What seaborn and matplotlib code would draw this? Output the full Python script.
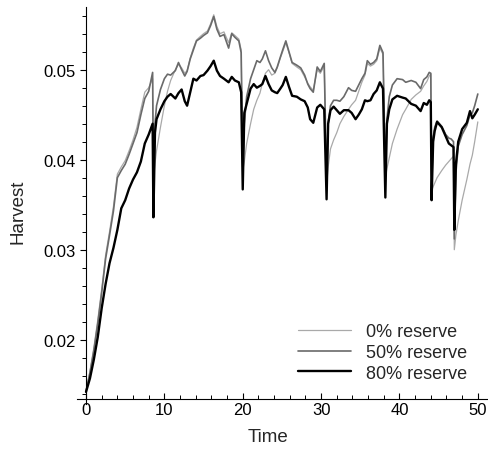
import matplotlib
matplotlib.use("Agg")
import matplotlib.pyplot as plt
from matplotlib.ticker import MultipleLocator, FormatStrFormatter
import seaborn as sns

# Simulated harvest over time for three reserve fractions
time = [
    0, 0.5, 1, 1.5, 2, 2.5, 3, 3.5, 4, 4.5, 5, 5.5, 6, 6.5, 7, 7.5, 8, 8.5,
    8.6, 8.8, 9.0, 9.5, 10.0, 10.4, 10.8, 11.4, 11.8, 12.2, 12.6, 12.9, 13.3, 13.7,
    14.1, 14.6, 15.0, 15.5, 15.9, 16.3, 16.7, 17.1, 17.6, 18.2, 18.6, 19.0, 19.5, 19.8,
    20.0, 20.2, 20.5, 21.0, 21.4, 21.8, 22.2, 22.5, 22.9, 23.3, 23.7, 24.1, 24.4, 24.8,
    25.1, 25.5, 25.9, 26.3, 26.9, 27.4, 27.9, 28.3, 28.6, 29.0, 29.5, 29.9, 30.4,
    30.7, 30.9, 31.2, 31.6, 32.0, 32.4, 32.9, 33.5, 33.9, 34.4, 34.8, 35.2, 35.6, 35.9,
    36.3, 36.7, 37.1, 37.5, 37.9,
    38.2, 38.4, 38.7, 39.1, 39.7, 40.4, 40.8, 41.5, 42.1, 42.7, 43.1, 43.5, 43.8, 44.0,
    44.1, 44.3, 44.5, 44.8, 45.4, 45.9, 46.3, 46.6, 46.9,
    47.0, 47.2, 47.5, 48.0, 48.6, 49.0, 49.3, 49.6, 50.0,
]

reserve_0 = [
    .0143, .0165, .0191, .0222, .0256, .0294, .0320, .0348, .0384, .0392, .0399, .0410, .0422, .0436, .0456, .0475, .0480, .0490,
    .0378, .0396, .0410, .0436, .0460, .0476, .0488, .0500, .0506, .0502, .0496, .0499, .0513, .0524,
    .0533, .0537, .0540, .0543, .0551, .0561, .0548, .0540, .0542, .0530, .0541, .0538, .0534, .0522,
    .0388, .0398, .0418, .0440, .0456, .0466, .0474, .0485, .0496, .0500, .0494, .0496, .0502, .0513,
    .0520, .0530, .0519, .0507, .0503, .0500, .0492, .0485, .0481, .0477, .0500, .0496, .0504,
    .0372, .0392, .0412, .0422, .0430, .0440, .0448, .0456, .0461, .0466, .0476, .0486, .0494, .0507,
    .0504, .0506, .0510, .0524, .0517,
    .0380, .0390, .0402, .0418, .0434, .0450, .0456, .0467, .0472, .0476, .0482, .0487, .0493, .0495,
    .0365, .0370, .0374, .0380, .0388, .0394, .0398, .0401, .0404,
    .0300, .0316, .0332, .0355, .0378, .0395, .0405, .0420, .0442,
]

reserve_50 = [
    .0143, .0163, .0188, .0218, .0252, .0290, .0316, .0343, .0380, .0388, .0395, .0406, .0418, .0430, .0450, .0468, .0476, .0497,
    .0368, .0440, .0460, .0478, .0490, .0495, .0494, .0499, .0508, .0500, .0493, .0498, .0512, .0522,
    .0532, .0535, .0538, .0541, .0549, .0559, .0545, .0537, .0539, .0524, .0540, .0536, .0532, .0519,
    .0392, .0440, .0470, .0490, .0500, .0510, .0508, .0512, .0521, .0510, .0502, .0497, .0503, .0514,
    .0522, .0532, .0520, .0508, .0505, .0502, .0494, .0484, .0479, .0475, .0503, .0498, .0507,
    .0376, .0440, .0460, .0466, .0466, .0465, .0470, .0480, .0477, .0476, .0483, .0490, .0496, .0510,
    .0506, .0508, .0512, .0527, .0519,
    .0386, .0445, .0470, .0483, .0490, .0489, .0486, .0488, .0486, .0479, .0489, .0492, .0497, .0496,
    .0367, .0425, .0436, .0443, .0437, .0428, .0424, .0423, .0420,
    .0312, .0385, .0415, .0428, .0438, .0450, .0452, .0460, .0473,
]

reserve_80 = [
    .0142, .0157, .0178, .0203, .0235, .0262, .0285, .0302, .0322, .0346, .0355, .0368, .0378, .0386, .0398, .0418, .0428, .0440,
    .0336, .0430, .0445, .0456, .0465, .0470, .0473, .0468, .0474, .0478, .0465, .0460, .0475, .0490,
    .0488, .0493, .0494, .0499, .0504, .0510, .0499, .0493, .0490, .0486, .0492, .0488, .0486, .0475,
    .0367, .0452, .0462, .0479, .0484, .0480, .0482, .0484, .0493, .0484, .0477, .0475, .0474, .0479,
    .0483, .0492, .0481, .0471, .0470, .0467, .0465, .0458, .0445, .0441, .0458, .0461, .0456,
    .0356, .0440, .0455, .0459, .0455, .0451, .0455, .0455, .0452, .0445, .0450, .0456, .0466, .0465,
    .0466, .0473, .0477, .0486, .0479,
    .0358, .0440, .0456, .0467, .0471, .0469, .0468, .0462, .0460, .0454, .0463, .0461, .0466, .0464,
    .0355, .0420, .0432, .0442, .0436, .0426, .0418, .0416, .0414,
    .0322, .0395, .0420, .0434, .0441, .0454, .0446, .0450, .0456,
]

series_labels = ["0% reserve", "50% reserve", "80% reserve"]

sns.set_theme(style="white")
plt.rcParams["font.family"] = ["Liberation Sans", "DejaVu Sans"]

fig = plt.figure(figsize=(4.88, 4.52), dpi=100)
ax = fig.add_axes([0.1578, 0.104, 0.8422, 0.8776])

line_styles = [("#a9a9a9", 0.9), ("#6a6a6a", 1.2), ("#000000", 1.7)]
for values, label, (color, width) in zip(
    [reserve_0, reserve_50, reserve_80], series_labels, line_styles
):
    sns.lineplot(x=time, y=values, ax=ax, color=color, linewidth=width,
                 label=label, legend=False)

ax.set_xlim(-1.15, 51.3)
ax.set_ylim(0.01286, 0.05693)

# Axes cross near the origin, with the y axis running through t = 0
ax.spines["left"].set_position(("data", 0))
ax.spines["bottom"].set_position(("data", 0.01341))
for side in ["top", "right"]:
    ax.spines[side].set_visible(False)
for side in ["left", "bottom"]:
    ax.spines[side].set_color("black")
    ax.spines[side].set_linewidth(0.8)

ax.xaxis.set_major_locator(MultipleLocator(10))
ax.xaxis.set_minor_locator(MultipleLocator(2))
ax.yaxis.set_major_locator(MultipleLocator(0.01))
ax.yaxis.set_minor_locator(MultipleLocator(0.002))
ax.yaxis.set_major_formatter(FormatStrFormatter("%.2f"))

ax.tick_params(axis="y", which="major", direction="out", length=4.3, width=0.8,
               labelsize=12, pad=3, colors="black", left=True)
ax.tick_params(axis="y", which="minor", direction="out", length=3, width=0.7,
               left=True, colors="black")
ax.tick_params(axis="x", which="major", direction="in", length=4.5, width=0.8,
               labelsize=12, pad=2, colors="black", bottom=True)
ax.tick_params(axis="x", which="minor", direction="in", length=3, width=0.7,
               bottom=True, colors="black")

ax.set_xlabel("Time", fontsize=13.5, va="center", ha="center")
ax.xaxis.set_label_coords(0.4635, -0.0807)
ax.set_ylabel("Harvest", fontsize=13.5, va="center", ha="center")
ax.yaxis.set_label_coords(-0.1436, 0.4865)

ax.legend(loc="upper left", bbox_to_anchor=(0.5377, 0.204), frameon=False,
          fontsize=13, handlelength=2.93, handletextpad=0.83, labelspacing=0.21,
          borderpad=0, borderaxespad=0)

fig.savefig("out.png", dpi=100)
